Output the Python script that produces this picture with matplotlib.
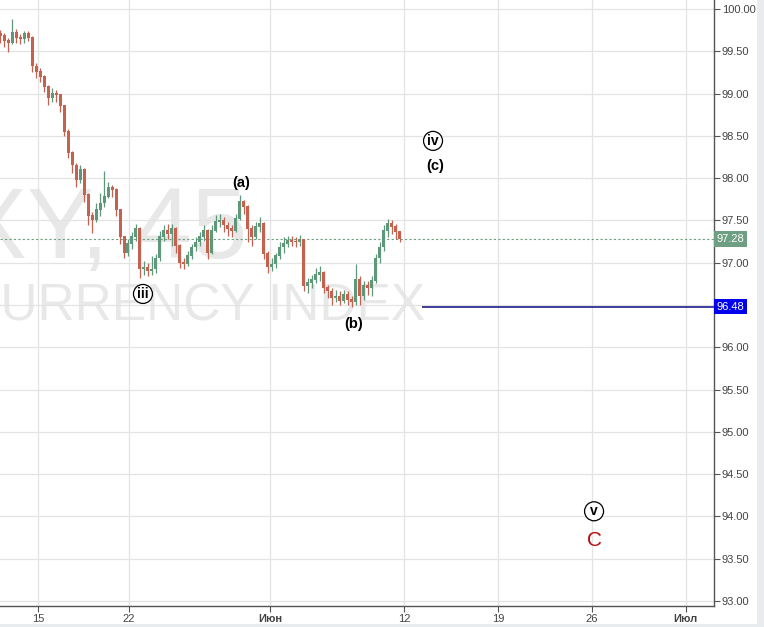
import numpy as np
import matplotlib.pyplot as plt
from matplotlib.patches import Rectangle

plt.rcParams['font.family'] = ['Liberation Sans', 'DejaVu Sans']

# 45-min DXY, resampled to ~5h candles; time in trading days from 15 May
t0, dt = -2.05, 0.216
closes = [99.68, 99.62, 99.60, 99.72, 99.66, 99.64, 99.70, 99.66, 99.32, 99.26,
          99.20, 99.08, 98.95, 99.00, 98.98, 98.85, 98.55, 98.30, 98.15, 97.98,
          98.10, 97.80, 97.55, 97.50, 97.62, 97.70, 97.78, 97.88, 97.86, 97.62,
          97.30, 97.12, 97.22, 97.30, 97.40, 96.92, 96.94, 96.90, 96.92, 97.05,
          97.30, 97.38, 97.34, 97.40, 97.20, 97.00, 96.98, 97.08, 97.18, 97.24,
          97.30, 97.38, 97.12, 97.38, 97.48, 97.50, 97.44, 97.40, 97.38, 97.52,
          97.72, 97.66, 97.40, 97.30, 97.42, 97.46, 97.10, 96.95, 96.98, 97.08,
          97.18, 97.22, 97.26, 97.25, 97.24, 97.27, 96.72, 96.76, 96.80, 96.86,
          96.88, 96.70, 96.66, 96.58, 96.60, 96.55, 96.62, 96.56, 96.54, 96.80,
          96.60, 96.72, 96.70, 96.78, 97.05, 97.18, 97.38, 97.46, 97.42, 97.36,
          97.28]
highs = [99.75, 99.72, 99.66, 99.88, 99.76, 99.70, 99.74, 99.74, 99.68, 99.36,
         99.30, 99.22, 99.10, 99.06, 99.04, 99.00, 98.86, 98.58, 98.32, 98.18,
         98.16, 98.12, 97.82, 97.60, 97.70, 97.82, 98.08, 97.95, 97.92, 97.88,
         97.64, 97.32, 97.28, 97.36, 97.46, 97.42, 97.02, 97.00, 97.08, 97.10,
         97.38, 97.45, 97.46, 97.46, 97.42, 97.22, 97.06, 97.14, 97.22, 97.30,
         97.36, 97.44, 97.40, 97.44, 97.56, 97.58, 97.54, 97.48, 97.44, 97.58,
         97.80, 97.74, 97.68, 97.44, 97.48, 97.54, 97.48, 97.14, 97.06, 97.12,
         97.24, 97.30, 97.32, 97.31, 97.30, 97.33, 97.28, 96.82, 96.86, 96.94,
         96.96, 96.90, 96.74, 96.70, 96.68, 96.66, 96.68, 96.66, 96.60, 96.98,
         96.84, 96.78, 96.78, 96.84, 97.10, 97.24, 97.44, 97.52, 97.50, 97.46,
         97.38]
lows = [99.60, 99.55, 99.49, 99.58, 99.60, 99.58, 99.60, 99.62, 99.26, 99.18,
        99.14, 99.02, 98.86, 98.90, 98.90, 98.78, 98.50, 98.24, 98.06, 97.90,
        97.94, 97.72, 97.45, 97.35, 97.48, 97.55, 97.66, 97.76, 97.78, 97.55,
        97.22, 97.05, 97.08, 97.16, 97.26, 96.82, 96.86, 96.84, 96.85, 96.88,
        97.02, 97.26, 97.28, 97.20, 97.12, 96.94, 96.92, 96.96, 97.04, 97.14,
        97.20, 97.26, 97.04, 97.10, 97.36, 97.42, 97.36, 97.32, 97.30, 97.36,
        97.50, 97.58, 97.24, 97.20, 97.28, 97.36, 97.04, 96.88, 96.90, 96.94,
        97.04, 97.12, 97.18, 97.20, 97.18, 97.20, 96.66, 96.64, 96.70, 96.76,
        96.78, 96.64, 96.58, 96.50, 96.54, 96.50, 96.52, 96.50, 96.48, 96.50,
        96.50, 96.56, 96.62, 96.60, 96.76, 97.00, 97.14, 97.30, 97.34, 97.28,
        97.24]
first_open = 99.70

level = 96.48
level_start = 20.75

tick_days = [0, 4.92, 12.53, 19.77, 24.85, 29.93, 35.0]
tick_names = ['15', '22', 'Июн', '12', '19', '26', 'Июл']

waves = [('(a)', 10.97, 97.94, False), ('(b)', 17.07, 96.28, False),
         ('(c)', 21.45, 98.14, False), ('iii', 5.67, 96.63, True),
         ('iv', 21.34, 98.44, True), ('v', 30.04, 94.06, True)]
big_c = ('C', 30.09, 93.72)

closes = np.array(closes)
opens = np.concatenate([[first_open], closes[:-1]])
t = t0 + dt * np.arange(len(closes))
up = closes >= opens

fig = plt.figure(figsize=(7.64, 6.27), dpi=100)
ax = fig.add_axes([0, 21 / 627, 714 / 764, 606 / 627])

# watermark
ax.text(11.3, 97.06, 'DXY, 45', ha='right', va='baseline', fontsize=72,
        color='#e8e8e8', zorder=0)
ax.text(20.9, 96.32, 'U.S. DOLLAR CURRENCY INDEX', ha='right', va='baseline',
        fontsize=37, color='#e8e8e8', zorder=0)

green, red = '#5e977a', '#c4614f'
cols = np.where(up, green, red)
ax.vlines(t, lows, highs, colors=cols, lw=0.9, zorder=3)
ax.bar(t, np.abs(closes - opens) + 0.01, bottom=np.minimum(opens, closes),
       width=dt * 0.75, color=cols, lw=0, zorder=3)

last = closes[-1]
ax.axhline(last, color='#6b9f7f', lw=0.8, ls=(0, (2, 2)), zorder=2)
ax.hlines(level, level_start, 40, color='#0a0a80', lw=1.1, zorder=2)

for txt, x, y, circ in waves:
    if circ:
        ax.text(x, y, txt, ha='center', va='center', fontsize=10,
                fontweight='bold', zorder=4,
                bbox=dict(boxstyle='circle,pad=0.18', fc='white', ec='black', lw=0.9))
    else:
        ax.text(x, y, txt, ha='center', va='center', fontsize=10.5,
                fontweight='bold', zorder=4)
ax.text(big_c[1], big_c[2], big_c[0], ha='center', va='center', fontsize=15,
        color='#b80c0c', zorder=4)

ax.set_xlim(-2.053, 36.52)
ax.set_ylim(92.94, 100.106)
ax.yaxis.tick_right()
yt = np.arange(93, 100.01, 0.5)
ax.set_yticks(yt)
# the 96.50 label sits under the level marker
ax.set_yticklabels(['' if abs(v - 96.5) < 1e-6 else f'{v:.2f}' for v in yt])
ax.set_xticks(tick_days)
ax.set_xticklabels(tick_names)
for lab in ax.get_xticklabels():
    if not lab.get_text().isdigit():
        lab.set_fontweight('bold')
ax.tick_params(axis='both', colors='#555555', labelcolor='#444444',
               labelsize=8, length=4, width=0.8)
ax.tick_params(axis='y', pad=1.5)
ax.tick_params(axis='x', pad=1.5)
ax.grid(True, color='#e3e3e3', lw=0.9)
ax.set_axisbelow(True)
for s in ['left', 'top']:
    ax.spines[s].set_visible(False)
for s in ['right', 'bottom']:
    ax.spines[s].set_color('#555555')
    ax.spines[s].set_linewidth(1)

for val, fc in [(last, '#6f9f82'), (level, '#0000ee')]:
    ax.annotate(f'{val:.2f}', xy=(1, val), xycoords=('axes fraction', 'data'),
                xytext=(2, 0), textcoords='offset points', ha='left',
                va='center', fontsize=8, color='white', zorder=6,
                bbox=dict(boxstyle='square,pad=0.25', fc=fc, ec='none'))

fig.patches.append(Rectangle((0, 0), 1, 3 / 627, transform=fig.transFigure,
                             fc='#e9ecef', ec='none'))
fig.patches.append(Rectangle((757 / 764, 0), 7 / 764, 1, transform=fig.transFigure,
                             fc='#e9ecef', ec='none'))

fig.savefig('out.png', dpi=100)
